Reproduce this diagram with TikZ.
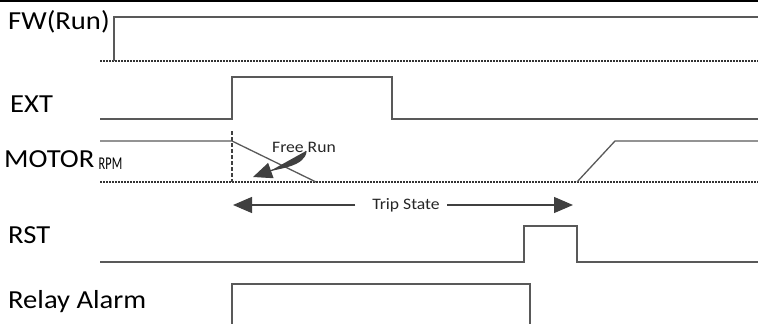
\documentclass[tikz,border=0pt]{standalone}
\usepackage{fontspec}
\setmainfont{Carlito}[FakeStretch=1.1]
\usepackage{tikz}
\usetikzlibrary{arrows.meta}

\begin{document}
\begin{tikzpicture}[x=1pt, y=-1pt,
  sig/.style={draw=black!65, line width=1.3pt},
  zero/.style={draw=black!80, line width=2.2pt, dash pattern=on 2pt off 1pt},
  mark line/.style={draw=black!75, line width=1.6pt, dash pattern=on 4pt off 2pt},
  lbl/.style={anchor=base west, inner sep=0pt, font=\fontsize{26}{26}\selectfont},
  note/.style={inner sep=0pt, font=\fontsize{16}{16}\selectfont, text=black!85},
  tip/.style={-{Triangle[length=19pt,width=16pt]}, draw=black!75, fill=black!75, line width=1.2pt}]
\useasboundingbox (0,0) rectangle (758,324);
\draw[black, line width=2.5pt] (0,1) -- (758,1);
\node[lbl] (fw) at (8,29) {FW(Run)};
\node[lbl] (ext) at (10,112) {EXT};
\node[lbl] (motor) at (4,167) {MOTOR\,\raisebox{-2pt}{\scalebox{0.62}[1]{\fontsize{18}{18}\selectfont RPM}}};
\node[lbl] (rst) at (8,243) {RST};
\node[lbl] (relay) at (8,308) {Relay Alarm};
\draw[zero] (100,61) -- (758,61);
\draw[sig] (114,61) -- (114,17) -- (758,17);
\draw[sig] (100,119) -- (232,119) -- (232,77) -- (392,77) -- (392,119) -- (758,119);
\draw[zero] (100,182) -- (758,182);
\draw[mark line] (232,131) -- (232,182);
\draw[sig] (100,141) -- (232,141) -- (316,182);
\draw[sig] (577,182) -- (615,141) -- (758,141);
\draw[sig] (100,262) -- (524,262) -- (524,226) -- (577,226) -- (577,262) -- (758,262);
\draw[sig] (232,324) -- (232,284) -- (530,284) -- (530,324);
\node[note, anchor=base] (free) at (304,152) {Free Run};
\coordinate (freeend) at (253,177);
\draw[tip] ([xshift=2pt, yshift=1pt]free.base) .. controls (305,166) and (278,168) .. (freeend);
\node[note, anchor=base] (trip) at (406,209) {Trip State};
\coordinate (tripL) at (233,205);
\coordinate (tripR) at (573,205);
\draw[tip] (355,205) -- (tripL);
\draw[tip] (447,205) -- (tripR);
\end{tikzpicture}
\end{document}
